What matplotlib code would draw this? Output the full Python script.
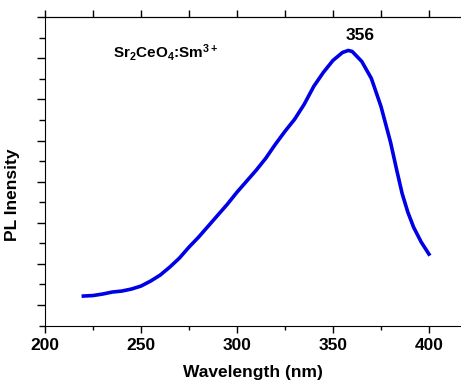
import numpy as np
import matplotlib.pyplot as plt
from matplotlib.ticker import MultipleLocator

plt.rcParams['font.family'] = ['Liberation Sans', 'DejaVu Sans']
plt.rcParams['font.weight'] = 'bold'
plt.rcParams['mathtext.fontset'] = 'custom'
plt.rcParams['mathtext.rm'] = 'Liberation Sans:bold'
plt.rcParams['mathtext.it'] = 'Liberation Sans:bold'
plt.rcParams['mathtext.bf'] = 'Liberation Sans:bold'
plt.rcParams['mathtext.default'] = 'rm'

# 발광 스펙트럼 (눈으로 읽은 값)
wavelength = [220, 225, 230, 235, 240, 245, 250, 255, 260, 265, 270, 275, 280,
              285, 290, 295, 300, 305, 310, 315, 320, 325, 330, 335, 340, 345,
              350, 355, 358, 360, 365, 370, 375, 380, 383, 386, 389, 392, 396, 400]
intensity = [9, 9.5, 11, 13, 14, 16, 19, 24, 30, 38, 47, 58, 68,
             79, 90, 101, 113, 124, 135, 147, 161, 174, 186, 201, 219, 233,
             245, 253, 255, 254, 244, 227, 199, 163, 137, 112, 93, 78, 63, 51]

peak_wl = 356
sample = r"Sr$_2$CeO$_4$:Sm$^{3+}$"

fig = plt.figure(figsize=(4.61, 3.83), dpi=100)
ax = fig.add_axes([45 / 461, 57 / 383, 416 / 461, 309 / 383])

ax.plot(wavelength, intensity, color='#0000e6', lw=2.6)
ax.text(peak_wl + 8, max(intensity) + 7, str(peak_wl), ha='center', va='bottom', fontsize=12.5, fontweight='bold')
ax.text(0.163, 0.87, sample, transform=ax.transAxes, fontsize=11, fontweight='bold')

ax.set_xlim(200, 416.7)
ax.set_ylim(-21, 288.5)
ax.xaxis.set_major_locator(MultipleLocator(50))
ax.xaxis.set_minor_locator(MultipleLocator(25))
ax.yaxis.set_major_locator(MultipleLocator(41.2))
ax.yaxis.set_minor_locator(MultipleLocator(20.6))
ax.tick_params(which='both', direction='out', width=1)
ax.tick_params(which='major', length=5, labelsize=12.5)
ax.tick_params(which='minor', length=3)
ax.tick_params(axis='y', which='major', length=6)
ax.tick_params(axis='y', which='minor', length=4)
ax.set_yticklabels([])
ax.spines['right'].set_visible(False)

top = ax.secondary_xaxis('top')
top.set_xticks(np.arange(200, 425, 25))
top.tick_params(direction='out', length=5, width=1, labeltop=False)

ax.set_xlabel("Wavelength (nm)", fontsize=12.5, fontweight='bold', labelpad=9)
ax.set_ylabel("PL Inensity", fontsize=12.5, fontweight='bold')
ax.yaxis.set_label_coords(-0.06, 0.424)

fig.savefig("out.png", dpi=100)
